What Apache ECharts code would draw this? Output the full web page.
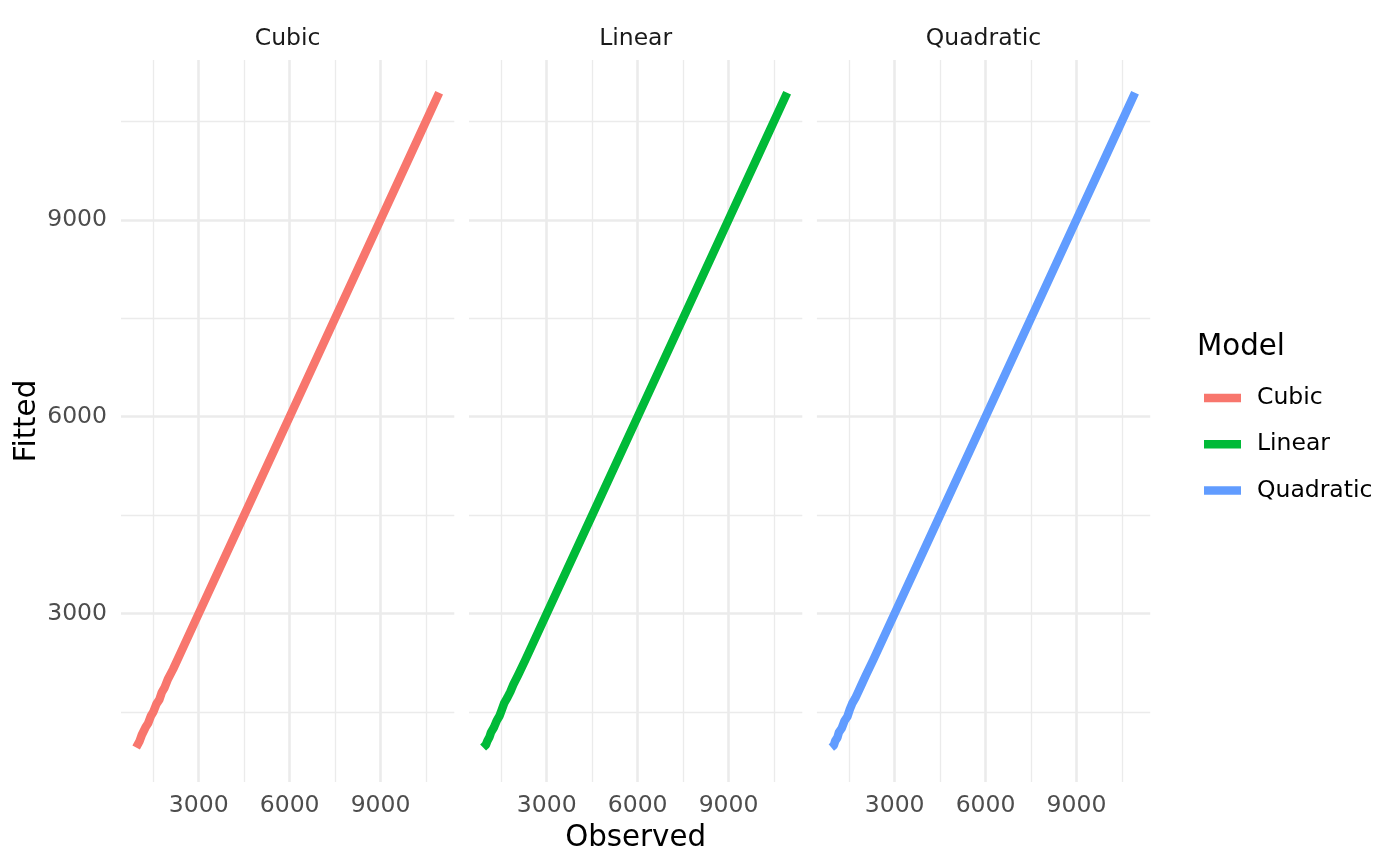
<!DOCTYPE html>
<html>
<head>
<meta charset="utf-8">
<script src="https://cdn.jsdelivr.net/npm/echarts@6/dist/echarts.min.js"></script>
<style>html,body{margin:0;padding:0;background:#fff}#c{width:1400px;height:866px}</style>
</head>
<body>
<div id="c"></div>
<script>
// ---- data ----
const models = ['Cubic', 'Linear', 'Quadratic'];
const colors = ['#F8766D', '#00BA38', '#619CFF'];
const majorTicks = [3000, 6000, 9000];
const minorTicks = [1500, 4500, 7500, 10500];
const axisMin = 434, axisMax = 11434;

const observedCubic = [934, 975, 1050, 1120, 1180, 1260, 1330, 1420, 1500, 1600, 1700, 1780, 1870, 1980, 2150, 2400, 3000, 4500, 6000, 7500, 9000, 10000, 10934];
const fittedCubic   = [960, 990, 1060, 1150, 1180, 1280, 1330, 1440, 1500, 1620, 1690, 1800, 1870, 2000, 2150, 2400, 3000, 4500, 6000, 7500, 9000, 10000, 10934];

const observedLinear = [900, 990, 1040, 1110, 1160, 1250, 1350, 1440, 1520, 1600, 1700, 1800, 1900, 2050, 2300, 3000, 4500, 6000, 7500, 9000, 10000, 10934];
const fittedLinear   = [960, 1000, 1060, 1120, 1190, 1260, 1370, 1440, 1540, 1640, 1720, 1810, 1920, 2060, 2300, 3000, 4500, 6000, 7500, 9000, 10000, 10934];

const observedQuadratic = [910, 990, 1040, 1110, 1160, 1250, 1350, 1440, 1520, 1600, 1700, 1800, 1900, 2050, 2300, 3000, 4500, 6000, 7500, 9000, 10000, 10934];
const fittedQuadratic   = [960, 990, 1060, 1110, 1190, 1250, 1370, 1430, 1540, 1630, 1710, 1810, 1910, 2060, 2300, 3000, 4500, 6000, 7500, 9000, 10000, 10934];

const observedAll = [observedCubic, observedLinear, observedQuadratic];
const fittedAll = [fittedCubic, fittedLinear, fittedQuadratic];

// ---- layout ----
const FONT = 'DejaVu Sans';
const panelLefts = [121, 469, 816.9];
const panelW = 333.3, panelTop = 60, panelH = 722;
const plain = v => String(v);

const grids = [], xAxes = [], yAxes = [], series = [], graphics = [];
models.forEach((m, i) => {
  grids.push({left: panelLefts[i], top: panelTop, width: panelW, height: panelH, containLabel: false});
  xAxes.push({
    type: 'value', gridIndex: i, min: axisMin, max: axisMax, position: 'bottom',
    axisLine: {show: false}, axisTick: {show: false, customValues: majorTicks},
    axisLabel: {customValues: majorTicks, formatter: plain, fontFamily: FONT, fontSize: 23.5, color: '#4D4D4D', margin: 12},
    splitLine: {show: true, lineStyle: {color: '#EBEBEB', width: 2.6}}
  });
  xAxes.push({
    type: 'value', gridIndex: i, min: axisMin, max: axisMax, position: 'top',
    axisLine: {show: false}, axisTick: {show: false, customValues: minorTicks},
    axisLabel: {show: false},
    splitLine: {show: true, lineStyle: {color: '#EBEBEB', width: 1.3}}
  });
  yAxes.push({
    type: 'value', gridIndex: i, min: axisMin, max: axisMax, position: 'left',
    axisLine: {show: false}, axisTick: {show: false, customValues: majorTicks},
    axisLabel: {show: i === 0, customValues: majorTicks, formatter: plain, fontFamily: FONT, fontSize: 23.5, color: '#4D4D4D', margin: 14, padding: [5, 0, 0, 0]},
    splitLine: {show: true, lineStyle: {color: '#EBEBEB', width: 2.6}}
  });
  yAxes.push({
    type: 'value', gridIndex: i, min: axisMin, max: axisMax, position: 'right',
    axisLine: {show: false}, axisTick: {show: false, customValues: minorTicks},
    axisLabel: {show: false},
    splitLine: {show: true, lineStyle: {color: '#EBEBEB', width: 1.3}}
  });
  const obs = observedAll[i], fit = fittedAll[i];
  series.push({
    name: m, type: 'line', xAxisIndex: i * 2, yAxisIndex: i * 2,
    data: obs.map((v, k) => [v, fit[k]]),
    showSymbol: false, symbol: 'none', silent: true,
    lineStyle: {color: colors[i], width: 8.5, cap: 'butt', join: 'round'},
    itemStyle: {color: colors[i]}, z: 5
  });
  graphics.push({
    type: 'text', x: panelLefts[i] + panelW / 2, y: 39,
    style: {text: m, font: '23.5px "' + FONT + '"', fill: '#1A1A1A', textAlign: 'center', textVerticalAlign: 'middle'}
  });
});

graphics.push({
  type: 'text', x: 635.6, y: 838,
  style: {text: 'Observed', font: '29.3px "' + FONT + '"', fill: '#000', textAlign: 'center', textVerticalAlign: 'middle'}
});
graphics.push({
  type: 'text', x: 27, y: 421, rotation: Math.PI / 2,
  style: {text: 'Fitted', font: '29.3px "' + FONT + '"', fill: '#000', textAlign: 'center', textVerticalAlign: 'middle'}
});
graphics.push({
  type: 'text', x: 1197, y: 347,
  style: {text: 'Model', font: '29.3px "' + FONT + '"', fill: '#000', textAlign: 'left', textVerticalAlign: 'middle'}
});

const chart = echarts.init(document.getElementById('c'), null, {renderer: 'canvas'});
chart.setOption({
  animation: false,
  backgroundColor: '#FFFFFF',
  grid: grids,
  xAxis: xAxes,
  yAxis: yAxes,
  series: series,
  legend: {
    data: models, orient: 'vertical', left: 1199, top: 381,
    icon: 'rect', itemWidth: 37, itemHeight: 8.5, itemGap: 22.3,
    selectedMode: false,
    textStyle: {fontFamily: FONT, fontSize: 23.5, color: '#000', lineHeight: 24, padding: [0, 0, 0, 11]}
  },
  graphic: graphics
});
</script>
</body>
</html>
